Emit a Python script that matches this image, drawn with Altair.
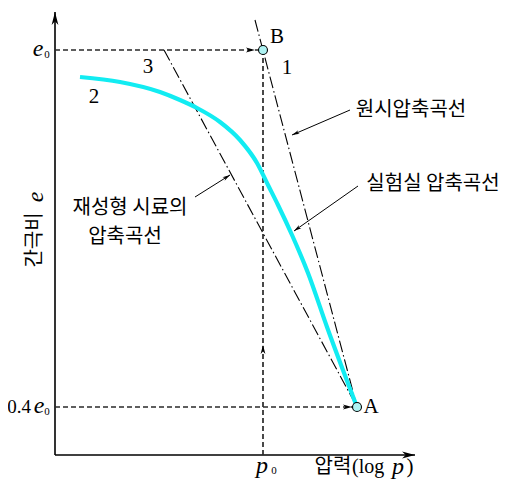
import math
import pandas as pd
import altair as alt

# Diagram frame: x = distance along the log p axis from the e axis, y = height above the log p axis
CURVE_X = [25, 65, 105, 125, 142, 165, 185, 202, 213, 223, 237, 253, 272, 302]
CURVE_Y = [378, 373, 363, 355, 347, 333, 315, 292, 270, 250, 220, 182, 128, 48]

POINT_NAMES = ["A", "B"]
POINT_X = [302, 208]
POINT_Y = [48, 405]

LINE1_X = [200, 302]   # 1: virgin compression curve
LINE1_Y = [435, 48]
LINE3_X = [109, 302]   # 3: remolded sample curve
LINE3_Y = [405, 48]

AXIS_X_END = 360
AXIS_Y_END = 443

E0 = 405
E04 = 48
P0 = 208

# annotation arrows: start -> tip
ANN_X1 = [295, 303, 140]
ANN_Y1 = [345, 269, 258]
ANN_X2 = [237, 239, 175]
ANN_Y2 = [320, 224, 280]

XS = alt.Scale(domain=[-47, 451], nice=False, zero=False)
YS = alt.Scale(domain=[-26, 447], nice=False, zero=False)


def X(f="x"):
    return alt.X(f + ":Q", scale=XS, axis=None)


def Y(f="y"):
    return alt.Y(f + ":Q", scale=YS, axis=None)


def ang(dx, dy):
    return (math.degrees(math.atan2(dx, dy)) + 360) % 360


ARROW = "M0,0 L-0.42,1.6 L0,1.15 L0.42,1.6 Z"

layers = []

# axes
axes = pd.DataFrame({"x": [0, 0], "y": [0, 0], "x2": [0, AXIS_X_END], "y2": [AXIS_Y_END, 0]})
layers.append(alt.Chart(axes).mark_rule(color="black", strokeWidth=1.6).encode(
    x=X(), y=Y(), x2="x2:Q", y2="y2:Q"))

# dashed guide lines
guides = pd.DataFrame({"x": [0, 0, P0], "y": [E0, E04, 0],
                       "x2": [POINT_X[1], POINT_X[0], P0], "y2": [E0, E04, E0]})
layers.append(alt.Chart(guides).mark_rule(color="#2a2a2a", strokeWidth=1.7, strokeDash=[5, 3]).encode(
    x=X(), y=Y(), x2="x2:Q", y2="y2:Q"))

# dash-dot lines 1 and 3
for lx, ly in [(LINE1_X, LINE1_Y), (LINE3_X, LINE3_Y)]:
    d = pd.DataFrame({"x": lx, "y": ly})
    layers.append(alt.Chart(d).mark_line(color="black", strokeWidth=1.1, strokeDash=[12, 3, 1.5, 3]).encode(
        x=X(), y=Y()))

# laboratory curve
curve = pd.DataFrame({"x": CURVE_X, "y": CURVE_Y, "i": range(len(CURVE_X))})
layers.append(alt.Chart(curve).mark_line(color="#12ecf2", strokeWidth=4.2, interpolate="monotone").encode(
    x=X(), y=Y(), order="i:Q"))

# annotation arrow shafts
ann = pd.DataFrame({"x": ANN_X1, "y": ANN_Y1, "x2": ANN_X2, "y2": ANN_Y2})
layers.append(alt.Chart(ann).mark_rule(color="black", strokeWidth=1).encode(
    x=X(), y=Y(), x2="x2:Q", y2="y2:Q"))

# arrowheads
heads = pd.DataFrame({
    "x": [0, AXIS_X_END, 200, 297, P0] + ANN_X2,
    "y": [AXIS_Y_END, 0, E0, E04, 110] + ANN_Y2,
    "a": [0, 90, 90, 90, 0] + [ang(x2 - x1, y2 - y1) for x1, y1, x2, y2 in zip(ANN_X1, ANN_Y1, ANN_X2, ANN_Y2)],
    "s": [260, 260, 130, 130, 130, 90, 90, 90],
})
layers.append(alt.Chart(heads).mark_point(shape=ARROW, filled=True, color="black", opacity=1).encode(
    x=X(), y=Y(), angle=alt.Angle("a:Q", scale=None), size=alt.Size("s:Q", scale=None)))

# points A, B
pts = pd.DataFrame({"n": POINT_NAMES, "x": POINT_X, "y": POINT_Y})
layers.append(alt.Chart(pts).mark_point(shape="circle", filled=True, fill="#aef3f3", stroke="black",
                                        strokeWidth=1.1, size=80, opacity=1).encode(x=X(), y=Y()))


def text_layer(texts, xs, ys, font, size, style="normal", angle=0, align="center"):
    d = pd.DataFrame({"t": texts, "x": xs, "y": ys})
    return alt.Chart(d).mark_text(font=font, fontSize=size, fontStyle=style, angle=angle, align=align,
                                  baseline="middle", color="black").encode(x=X(), y=Y(), text="t:N")


SERIF = "Liberation Serif"
KR = "Noto Sans CJK KR"

# italic e / p symbols
layers.append(text_layer(["e", "e", "p", "p"], [-17, -16, 207, 343], [406, 49, -11, -12], SERIF, 24, "italic"))
# subscripts
layers.append(text_layer(["0", "0", "0"], [-8, -8, 219], [400, 43, -16], SERIF, 11))
# 0.4
layers.append(text_layer(["0.4"], [-24], [48], SERIF, 19, align="right"))
# plain serif labels
layers.append(text_layer(["B", "A", "1", "2", "3", ")"], [222, 316, 232, 39, 93, 355],
                         [418, 48, 387, 358, 388, -12], SERIF, 21))
layers.append(text_layer(["(log"], [297], [-12], SERIF, 20, align="left"))
# Korean labels
layers.append(text_layer(["원시압축곡선", "실험실 압축곡선", "재성형 시료의", "압축곡선", "압력"],
                         [356, 378, 75, 70, 278], [345, 271, 247, 218, -12], KR, 20))
# y axis title
layers.append(text_layer(["간극비"], [-20], [215], KR, 20, angle=270))
layers.append(text_layer(["e"], [-19], [258], SERIF, 24, "italic", angle=270))

chart = alt.layer(*layers).properties(width=498, height=473, padding=0, autosize="none").configure_view(stroke=None)

chart.save("out.html", embed_options={"renderer": "svg", "actions": False})
